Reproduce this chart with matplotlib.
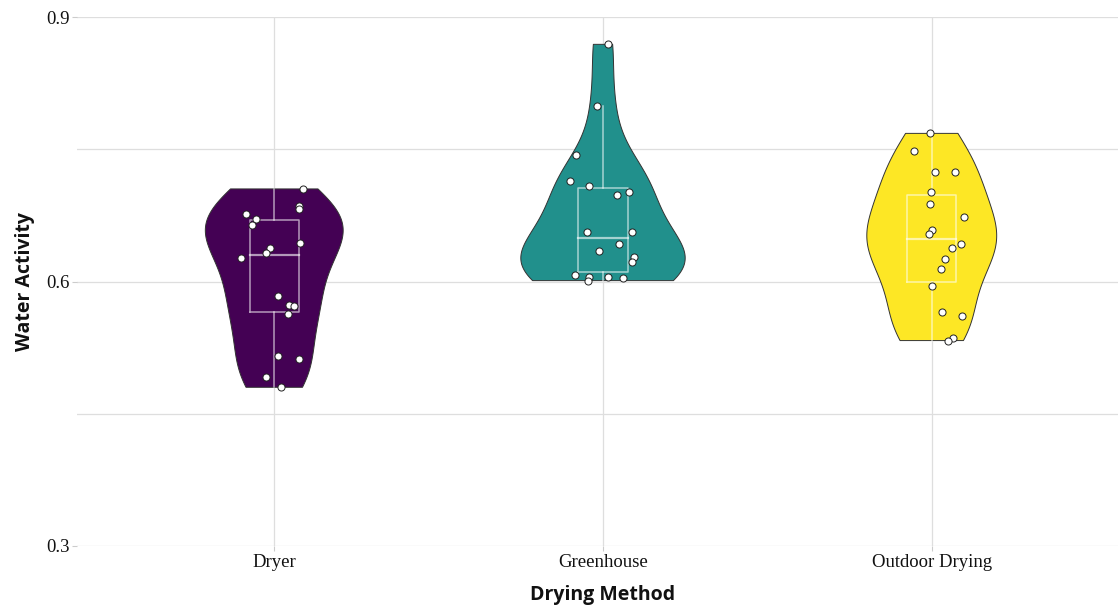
import numpy as np
import matplotlib
matplotlib.use("Agg")
import matplotlib.pyplot as plt

# Drying methods and measured water activity per sample
methods = ["Dryer", "Greenhouse", "Outdoor Drying"]
colors = ["#440154", "#21908C", "#FDE725"]

dryer_aw = [0.705, 0.686, 0.682, 0.677, 0.671, 0.664, 0.644, 0.638, 0.632,
            0.627, 0.584, 0.573, 0.572, 0.563, 0.516, 0.512, 0.492, 0.480]
greenhouse_aw = [0.869, 0.799, 0.743, 0.714, 0.708, 0.702, 0.698, 0.656, 0.656,
                 0.642, 0.635, 0.628, 0.622, 0.607, 0.605, 0.605, 0.604, 0.601]
outdoor_aw = [0.768, 0.748, 0.724, 0.724, 0.702, 0.688, 0.673, 0.658, 0.654,
              0.643, 0.638, 0.626, 0.614, 0.595, 0.565, 0.561, 0.536, 0.533]

# horizontal jitter of each sample point (category units)
dryer_jit = [0.086, 0.076, 0.076, -0.086, -0.054, -0.068, 0.078, -0.012, -0.024,
             -0.102, 0.011, 0.046, 0.059, 0.043, 0.011, 0.076, -0.024, 0.022]
greenhouse_jit = [0.016, -0.019, -0.081, -0.099, -0.043, 0.080, 0.043, -0.048, 0.089,
                  0.049, -0.011, 0.094, 0.089, -0.086, -0.043, 0.014, 0.062, -0.046]
outdoor_jit = [-0.005, -0.054, 0.011, 0.072, -0.002, -0.006, 0.097, 0.001, -0.008,
               0.090, 0.062, 0.041, 0.027, 0.002, 0.030, 0.093, 0.065, 0.048]

y_ticks = [0.3, 0.6, 0.9]
y_minor = [0.45, 0.75]

groups = [np.array(dryer_aw), np.array(greenhouse_aw), np.array(outdoor_aw)]
jitters = [dryer_jit, greenhouse_jit, outdoor_jit]


def bw_nrd0(x):
    sd = np.std(x, ddof=1)
    q75, q25 = np.percentile(x, [75, 25])
    lo = min(sd, (q75 - q25) / 1.34)
    return 0.9 * lo * len(x) ** (-0.2)


def kde(x, grid):
    h = bw_nrd0(x)
    z = (grid[:, None] - x[None, :]) / h
    return np.exp(-0.5 * z ** 2).sum(axis=1) / (len(x) * h * np.sqrt(2 * np.pi))


fig = plt.figure(figsize=(11.18, 6.06), dpi=100)
ax = fig.add_axes([77 / 1118, 60 / 606, 1052 / 1118, 529 / 606])
ax.set_xlim(0.4, 3.6)
ax.set_ylim(0.3, 0.9)

grid_col = "#dedede"
for y in y_ticks + y_minor:
    ax.axhline(y, color=grid_col, lw=0.9, zorder=0)
for i in range(len(methods)):
    ax.axvline(i + 1, color=grid_col, lw=0.9, zorder=0)

# density curves, scaled by area (shared density scale)
curves = []
for vals in groups:
    g = np.linspace(vals.min(), vals.max(), 300)
    curves.append((g, kde(vals, g)))
dmax = max(d.max() for _, d in curves)
half_w = 0.25

for i, ((g, d), vals, jit, col) in enumerate(zip(curves, groups, jitters, colors)):
    pos = i + 1
    w = d / dmax * half_w
    xs = np.concatenate([pos - w, (pos + w)[::-1]])
    ys = np.concatenate([g, g[::-1]])
    ax.fill(xs, ys, facecolor=col, edgecolor="#333333", lw=0.7, zorder=2)

    # box and whiskers
    q1, med, q3 = np.percentile(vals, [25, 50, 75])
    iqr = q3 - q1
    lo_w = vals[vals >= q1 - 1.5 * iqr].min()
    hi_w = vals[vals <= q3 + 1.5 * iqr].max()
    bc = (1, 1, 1, 0.6)
    bw = 0.075
    ax.plot([pos - bw, pos + bw, pos + bw, pos - bw, pos - bw],
            [q1, q1, q3, q3, q1], color=bc, lw=1.1, zorder=3)
    ax.plot([pos - bw, pos + bw], [med, med], color=bc, lw=1.6, zorder=3)
    ax.plot([pos, pos], [q3, hi_w], color=bc, lw=1.1, zorder=3)
    ax.plot([pos, pos], [lo_w, q1], color=bc, lw=1.1, zorder=3)

    ax.scatter(pos + np.array(jit), vals, s=26, facecolor="white",
               edgecolor="#222222", linewidths=0.7, zorder=4)

for s in ax.spines.values():
    s.set_visible(False)

ax.set_yticks(y_ticks)
ax.set_yticklabels([f"{v:.1f}" for v in y_ticks])
ax.set_xticks(range(1, len(methods) + 1))
ax.set_xticklabels(methods)
ax.tick_params(axis="both", length=3.5, width=0.8, color="#cccccc",
               labelsize=13.5, labelcolor="#111111", pad=2)
for lab in ax.get_xticklabels() + ax.get_yticklabels():
    lab.set_fontfamily("Liberation Serif")

ax.set_xlabel("Drying Method", fontfamily="Open Sans", fontweight="bold",
              fontsize=14, color="#111111", labelpad=10)
ax.set_ylabel("Water Activity", fontfamily="Open Sans", fontweight="bold",
              fontsize=14, color="#111111", labelpad=8)

fig.savefig("out.png", dpi=100)
